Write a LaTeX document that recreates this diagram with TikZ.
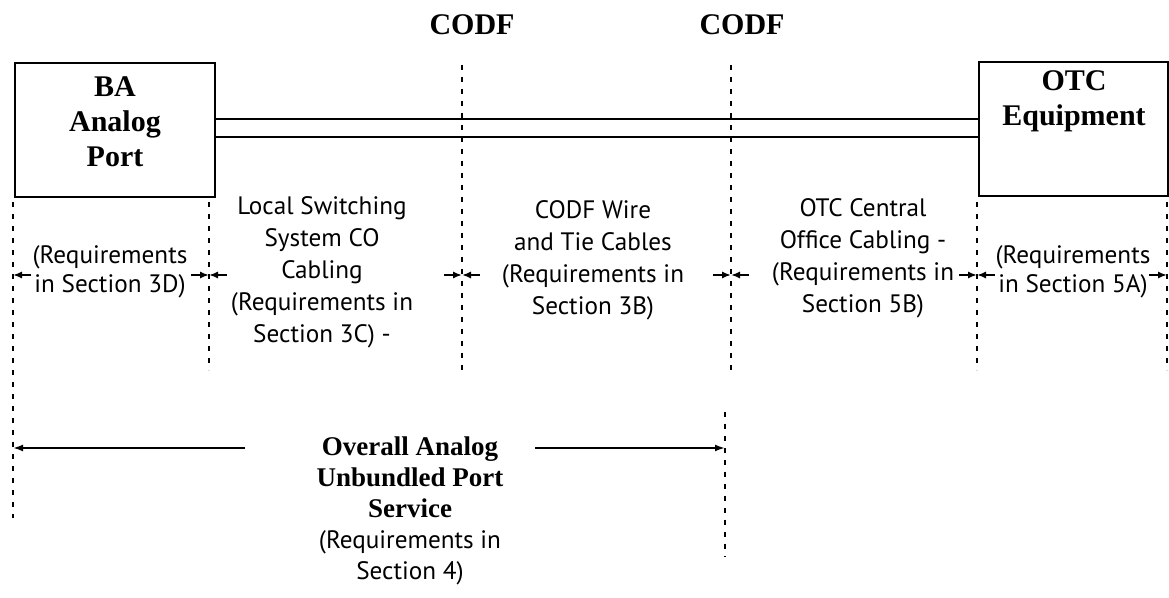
\documentclass[tikz,border=0pt]{standalone}
\usepackage{fontspec}
\setmainfont{Liberation Serif}
\newfontfamily\plainfont{PT Sans}
\usetikzlibrary{arrows.meta, positioning}

\begin{document}
\begin{tikzpicture}[
  x=0.5pt, y=-0.5pt,
  title/.style={font=\fontsize{15}{17.5}\selectfont\bfseries, align=center, inner sep=0pt},
  note/.style={font=\fontsize{12.6}{16}\selectfont\plainfont, align=center, inner sep=0pt},
  short/.style={font=\fontsize{12.6}{14.5}\selectfont\plainfont, align=center, inner sep=0pt},
  unit/.style={draw, line width=0.9pt, inner sep=0pt},
  cable/.style={line width=1pt},
  guide/.style={line width=0.7pt, dash pattern=on 2.5pt off 3.5pt},
  tick/.style={-{Latex[length=4.5pt,width=3.6pt]}, line width=0.9pt},
  arrow/.style={-{Latex[length=5pt,width=3.5pt]}, line width=1pt}
]
\useasboundingbox (0,0) rectangle (1169,598);

% equipment at both ends
\node[unit, minimum width=100pt, minimum height=67pt] (ba) at (115,130) {};
\node[title] (balbl) at (115,122) {BA\\Analog\\Port};
\node[unit, minimum width=94.5pt, minimum height=67pt] (otc) at (1073.5,129) {};
\node[title] (otclbl) at (1074,101) {OTC\\Equipment};

\node[title] (codf1) at (472,25) {CODF};
\node[title] (codf2) at (742,25) {CODF};

% cable pair
\draw[cable] (ba.east |- 0,119) -- (otc.west |- 0,119);
\draw[cable] (ba.east |- 0,137) -- (otc.west |- 0,137);

% section limits
\coordinate (la top) at (13,202);   \coordinate (la bot) at (13,518);   \coordinate (la mid) at (13,275);
\coordinate (lb top) at (209,202);  \coordinate (lb bot) at (209,370);  \coordinate (lb mid) at (209,275);
\coordinate (lc top) at (462,65);   \coordinate (lc bot) at (462,370);  \coordinate (lc mid) at (462,275);
\coordinate (ld top) at (731,65);   \coordinate (ld bot) at (731,370);  \coordinate (ld mid) at (731,275);
\coordinate (le top) at (977,202);  \coordinate (le bot) at (977,370);  \coordinate (le mid) at (977,275);
\coordinate (lf top) at (1167,202); \coordinate (lf bot) at (1167,370); \coordinate (lf mid) at (1167,275);
\coordinate (lg top) at (725,412);  \coordinate (lg bot) at (725,557);

\foreach \n in {la,lb,lc,ld,le,lf,lg}
  \draw[guide] (\n\space top) -- (\n\space bot);

\foreach \n in {lb,lc,ld,le,lf}
  \draw[tick] ([xshift=-9pt]\n\space mid) -- (\n\space mid);
\foreach \n in {la,lb,lc,ld,le}
  \draw[tick] ([xshift=9pt]\n\space mid) -- (\n\space mid);

% section texts
\node[short] (s3d) at (110,272) {(Requirements\\in Section 3D)};
\node[note] (s3c) at (322,272) {Local Switching\\System CO\\Cabling\\(Requirements in\\Section 3C) -};
\node[note] (s3b) at (593,260) {CODF Wire\\and Tie Cables\\(Requirements in\\Section 3B)};
\node[note] (s5b) at (863,258) {OTC Central\\Office Cabling -\\(Requirements in\\Section 5B)};
\node[short] (s5a) at (1073,272) {(Requirements\\in Section 5A)};

% overall service
\node[align=center, inner sep=0pt, font=\fontsize{13.5}{15.5}\selectfont\bfseries] (overall) at (410,511)
  {Overall Analog\\Unbundled Port\\Service\\{\plainfont\mdseries\fontsize{12.6}{15}\selectfont (Requirements in}\\{\plainfont\mdseries\fontsize{12.6}{15}\selectfont Section 4)}};
\coordinate (ovl) at (245,448);
\coordinate (ovr) at (535,448);
\draw[arrow] (ovl) -- (la bot |- ovl);
\draw[arrow] (ovr) -- (lg top |- ovr);
\end{tikzpicture}
\end{document}
